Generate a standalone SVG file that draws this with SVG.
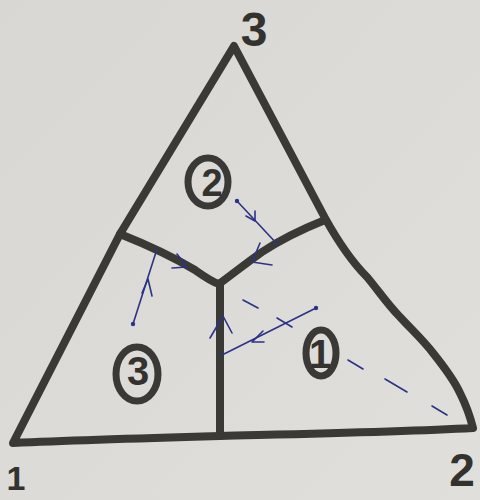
<svg xmlns="http://www.w3.org/2000/svg" width="480" height="500" viewBox="0 0 480 500">
<style>
.ink{fill:none;stroke:#3a3935;stroke-width:8;stroke-linecap:round;stroke-linejoin:round}
.ring{fill:none;stroke:#3a3935;stroke-width:7}
.lbl{font-family:"Liberation Sans",Arial,sans-serif;font-weight:bold;fill:#33322e;text-anchor:middle}
.pen{fill:none;stroke:#2b3386;stroke-width:1.6;stroke-linecap:round;stroke-linejoin:round}
.dot{fill:#2b3386}
</style>
<defs>
<linearGradient id="bg" x1="0" y1="0" x2="1" y2="1">
<stop offset="0" stop-color="#d8d7d3"/>
<stop offset="1" stop-color="#e0dfdb"/>
</linearGradient>
</defs>
<rect width="480" height="500" fill="url(#bg)"/>
<g id="triangle">
<path class="ink" d="M13,443 L120,234 L234,46 L325,218 C340,245 352,262 367,277 C378,290 388,305 400,317 C412,330 423,340 433,353 C445,368 454,380 460,393 C466,405 470,416 473,428 C400,432 300,434 220,436 C150,438 80,440 13,443 Z"/>
</g>
<g id="walls">
<path class="ink" d="M120,234 C150,246 175,258 195,270 C205,277 212,282 219,284"/>
<path class="ink" d="M325,220 C300,230 280,240 262,252 C245,264 230,276 219,284"/>
<path class="ink" d="M220,284 L220,436"/>
</g>
<g id="vertex-3"><text class="lbl" x="254" y="46" font-size="48">3</text></g>
<g id="vertex-1"><text class="lbl" x="16" y="490" font-size="34">1</text></g>
<g id="vertex-2"><text class="lbl" x="462" y="486" font-size="46">2</text></g>
<g id="region-2">
<ellipse class="ring" cx="208" cy="182" rx="20" ry="24"/>
<text class="lbl" x="212" y="196" font-size="38">2</text>
</g>
<g id="region-3">
<ellipse class="ring" cx="137" cy="374" rx="21" ry="27"/>
<text class="lbl" x="138" y="385" font-size="40">3</text>
</g>
<g id="region-1">
<ellipse class="ring" cx="321" cy="353" rx="15" ry="23"/>
<text class="lbl" x="320" y="368" font-size="40">1</text>
</g>
<g id="connectors">
<circle class="dot" cx="237" cy="201" r="2.2"/>
<path class="pen" d="M237,201 L278,245"/>
<path class="pen" d="M246,216 L255,221 L255,211"/>
<path class="pen" d="M260,243 L252,262 L272,265"/>
<path class="pen" d="M177,254 L187,267 L172,268"/>
<circle class="dot" cx="133" cy="324" r="2.2"/>
<path class="pen" d="M133,324 L157,249"/>
<path class="pen" d="M142,293 L148,279 L152,296"/>
<circle class="dot" cx="316" cy="308" r="2.2"/>
<path class="pen" d="M316,308 L220,356"/>
<path class="pen" d="M263,331 L252,342 L264,342"/>
<path class="pen" d="M210,338 L223,316 L232,333"/>
<path class="pen" d="M243,300 L258,308 M277,318 L292,327 M348,360 L363,369 M385,379 L407,392 M432,406 L447,415"/>
</g>
</svg>
